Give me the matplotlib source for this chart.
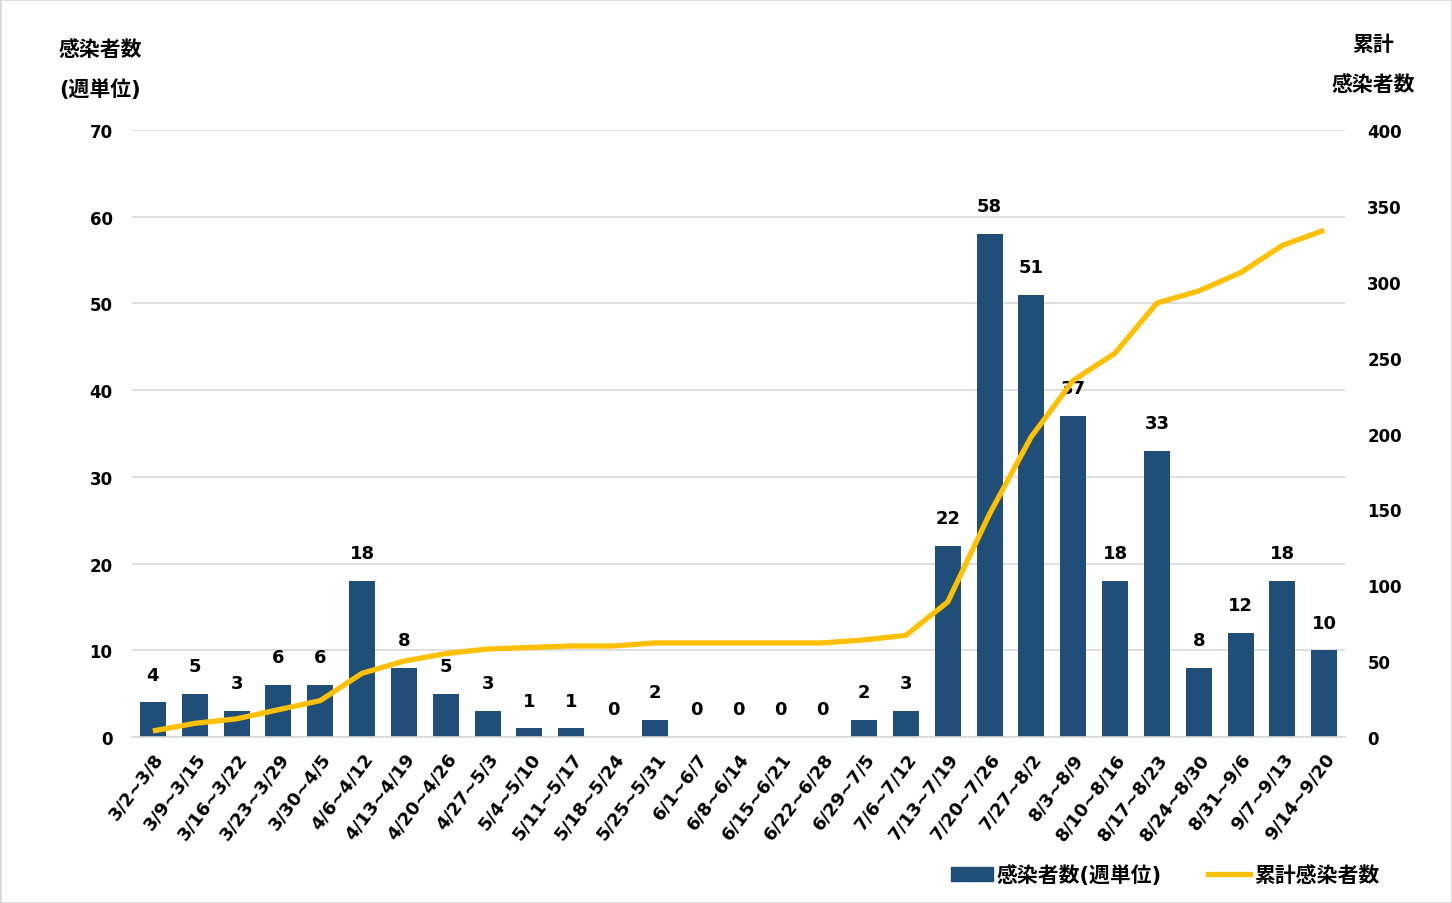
import numpy as np
import matplotlib
matplotlib.use('Agg')
from matplotlib import pyplot as plt
from matplotlib.patches import Rectangle
from matplotlib.lines import Line2D
from matplotlib.patches import Patch

plt.rcParams['font.family'] = ['DejaVu Sans', 'Noto Sans CJK JP']
plt.rcParams['font.weight'] = 'bold'

# Data
weeks = ['3/2~3/8', '3/9~3/15', '3/16~3/22', '3/23~3/29', '3/30~4/5',
         '4/6~4/12', '4/13~4/19', '4/20~4/26', '4/27~5/3', '5/4~5/10',
         '5/11~5/17', '5/18~5/24', '5/25~5/31', '6/1~6/7', '6/8~6/14',
         '6/15~6/21', '6/22~6/28', '6/29~7/5', '7/6~7/12', '7/13~7/19',
         '7/20~7/26', '7/27~8/2', '8/3~8/9', '8/10~8/16', '8/17~8/23',
         '8/24~8/30', '8/31~9/6', '9/7~9/13', '9/14~9/20']
weekly = [4, 5, 3, 6, 6, 18, 8, 5, 3, 1, 1, 0, 2, 0, 0, 0, 0, 2, 3, 22,
          58, 51, 37, 18, 33, 8, 12, 18, 10]
cumulative = [4, 9, 12, 18, 24, 42, 50, 55, 58, 59, 60, 60, 62, 62, 62, 62,
              62, 64, 67, 89, 147, 198, 235, 253, 286, 294, 306, 324, 334]

bar_color = '#1F4E79'
line_color = '#FFC000'
grid_color = '#D9D9D9'
fs_tick = 12
fs_val = 13
fs_xtick = 13
fs_title = 15

fig = plt.figure(figsize=(14.52, 9.04), dpi=100)
ax = fig.add_axes([0.0909, 0.1836, 0.8355, 0.6714])
ax2 = ax.twinx()

x = np.arange(len(weeks))
ax.bar(x, weekly, width=0.62, color=bar_color, zorder=2)
for xi, v in zip(x, weekly):
    ax.annotate(str(v), (xi, v), xytext=(0, 20), textcoords='offset points',
                ha='center', va='center', fontsize=fs_val, fontweight='bold')

ax2.plot(x, cumulative, color=line_color, linewidth=3.8, solid_capstyle='butt', zorder=3)

ax.set_xlim(-0.5, len(weeks) - 0.5)
ax.set_ylim(0, 70)
ax.set_yticks(range(0, 71, 10))
ax2.set_ylim(0, 400)
ax2.set_yticks(range(0, 401, 50))

ax.yaxis.grid(True, color=grid_color, linewidth=1.2, zorder=0)
ax.set_axisbelow(True)
for a in (ax, ax2):
    for s in a.spines.values():
        s.set_visible(False)
    a.tick_params(length=0)
ax.spines['bottom'].set_visible(True)
ax.spines['bottom'].set_color(grid_color)
ax.spines['bottom'].set_linewidth(1.2)

ax.set_xticks(x)
ax.set_xticklabels(weeks, rotation=53, ha='right', rotation_mode='anchor',
                   fontsize=fs_xtick, fontweight='bold')
ax.tick_params(axis='x', pad=9)
ax.tick_params(axis='y', labelsize=fs_tick, pad=14)
ax2.tick_params(axis='y', labelsize=fs_tick, pad=16)
for lbl in ax.get_yticklabels() + ax2.get_yticklabels():
    lbl.set_fontweight('bold')

# Axis titles
fig.text(100 / 1452, 1 - 50 / 904, '感染者数', ha='center', va='center', fontsize=fs_title, fontweight='bold')
fig.text(100 / 1452, 1 - 90 / 904, '(週単位)', ha='center', va='center', fontsize=fs_title, fontweight='bold')
fig.text(1373 / 1452, 1 - 45 / 904, '累計', ha='center', va='center', fontsize=fs_title, fontweight='bold')
fig.text(1373 / 1452, 1 - 85 / 904, '感染者数', ha='center', va='center', fontsize=fs_title, fontweight='bold')

# Legend
handles = [Patch(color=bar_color, label='感染者数(週単位)'),
           Line2D([0], [0], color=line_color, linewidth=3.8, label='累計感染者数')]
fig.legend(handles=handles, loc='center', bbox_to_anchor=(1165 / 1452, 1 - 876 / 904),
           ncol=2, frameon=False, prop={'size': fs_title, 'weight': 'bold'},
           handlelength=2.0, handletextpad=0.2, columnspacing=2.2)

# Figure border
fig.patches.append(Rectangle((0, 0), 1, 1, transform=fig.transFigure, fill=False,
                             edgecolor=grid_color, linewidth=2))

fig.savefig('out.png', dpi=100)
